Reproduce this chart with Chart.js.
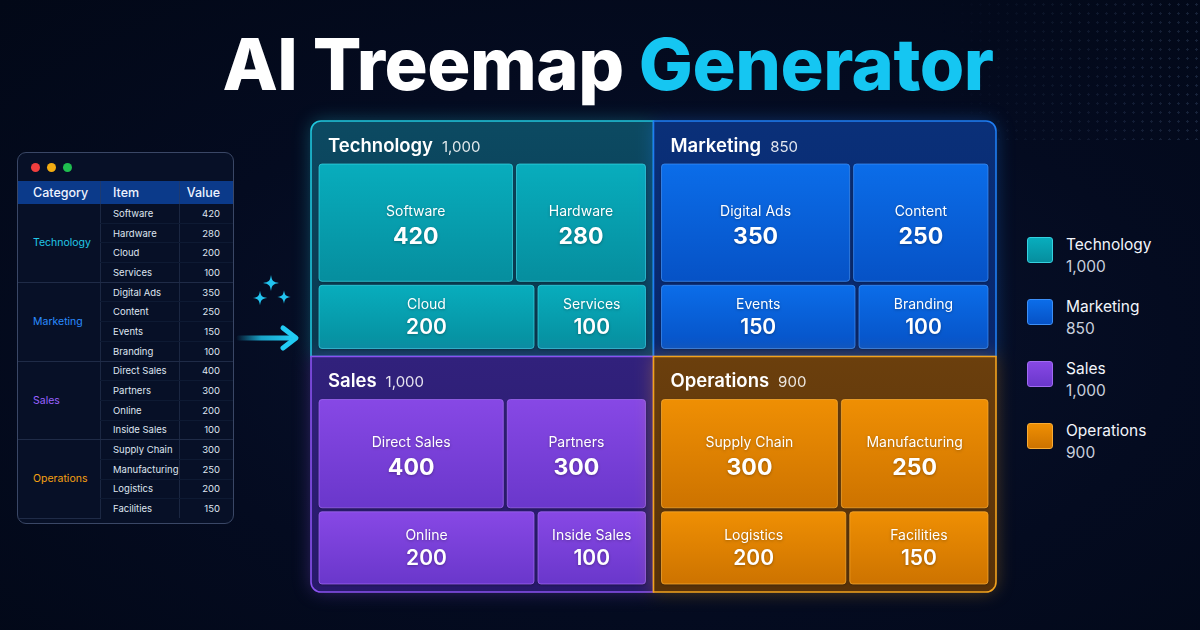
<!DOCTYPE html>
<html lang="en">
<head>
    <meta charset="UTF-8">
    <title>AI Treemap Generator</title>
    <script src="https://cdn.jsdelivr.net/npm/chart.js"></script>
    <style>
        html, body {
            margin: 0;
            padding: 0;
        }

        body {
            width: 1200px;
            height: 630px;
            overflow: hidden;
            position: relative;
            font-family: Inter, "Noto Sans", Arial, sans-serif;
            color: #fff;
            background: radial-gradient(ellipse at 55% 55%, #09132f 0%, #040b20 55%, #020817 100%);
        }

        .dots {
            position: absolute;
            right: 0;
            top: 0;
            width: 260px;
            height: 140px;
            background-image: radial-gradient(rgba(120, 150, 200, 0.18) 1px, transparent 1.2px);
            background-size: 9px 9px;
            -webkit-mask-image: linear-gradient(to left, #000, transparent);
            mask-image: linear-gradient(to left, #000, transparent);
        }

        h1 {
            position: absolute;
            left: 0;
            width: 1216px;
            top: 21px;
            margin: 0;
            text-align: center;
            font-size: 72px;
            font-weight: 800;
            letter-spacing: -0.5px;
            line-height: 86px;
        }

        h1 span {
            color: #15c6f2;
        }

        .panel {
            position: absolute;
            left: 17px;
            top: 152px;
            width: 215px;
            height: 370px;
            border: 1.5px solid #3a4766;
            border-radius: 9px;
            background: #071027;
            overflow: hidden;
        }

        .winDots {
            height: 28px;
            display: flex;
            align-items: center;
            gap: 7px;
            padding-left: 13px;
        }

        .winDots i {
            width: 9px;
            height: 9px;
            border-radius: 50%;
            display: block;
        }

        table {
            border-collapse: collapse;
            width: 100%;
            font-size: 9.5px;
        }

        th {
            background: #0b3a8a;
            height: 23px;
            font-size: 12.5px;
            font-weight: 500;
            text-align: left;
            padding: 0;
            color: #eef3ff;
        }

        th:first-child { padding-left: 15px; width: 67px; }
        th:nth-child(2) { padding-left: 12px; width: 66px; border-left: 1px solid #1d3a70; border-right: 1px solid #1d3a70; }
        th:last-child { text-align: right; padding-right: 13px; }

        td {
            height: 18.7px;
            padding: 0;
            color: #dfe5f0;
            border-bottom: 1px solid #0e1a33;
        }

        td.cat {
            padding-left: 15px;
            font-size: 10.5px;
            border-bottom: 1px solid #1f2b47;
        }

        td.item {
            padding-left: 12px;
            border-left: 1px solid #1b2742;
            border-right: 1px solid #1b2742;
        }

        td.val {
            text-align: right;
            padding-right: 13px;
        }

        tr.last td {
            border-bottom: 1px solid #1f2b47;
        }

        tbody tr:last-child td {
            border-bottom: none;
        }

        #arrow {
            position: absolute;
            left: 236px;
            top: 272px;
        }

        #chartWrap {
            position: absolute;
            left: 291px;
            top: 101px;
        }

        .legend {
            position: absolute;
            left: 1027px;
            top: 237px;
        }

        .legend .row {
            position: relative;
            height: 62px;
        }

        .legend .sw {
            position: absolute;
            left: 0;
            top: 0;
            width: 24px;
            height: 24px;
            border-radius: 3px;
            border: 1px solid;
        }

        .legend .name {
            position: absolute;
            left: 39px;
            top: -2px;
            font-size: 15.5px;
            color: #f2f5fb;
            white-space: nowrap;
        }

        .legend .num {
            position: absolute;
            left: 39px;
            top: 20px;
            font-size: 15.5px;
            color: #c9d0de;
        }
    </style>
</head>
<body>
<div class="dots"></div>
<h1>AI Treemap <span>Generator</span></h1>

<div class="panel">
    <div class="winDots">
        <i style="background:#ef3e3e"></i><i style="background:#f2ac12"></i><i style="background:#1fbe4f"></i>
    </div>
    <table>
        <thead>
        <tr><th>Category</th><th>Item</th><th>Value</th></tr>
        </thead>
        <tbody id="tableBody"></tbody>
    </table>
</div>

<svg id="arrow" width="70" height="90" viewBox="0 0 70 90">
    <defs>
        <linearGradient id="arrowGrad" x1="0" x2="1" y1="0" y2="0">
            <stop offset="0" stop-color="#1ec8f0" stop-opacity="0"/>
            <stop offset="0.45" stop-color="#1ec8f0" stop-opacity="0.8"/>
            <stop offset="1" stop-color="#22ccf4"/>
        </linearGradient>
        <path id="spark" d="M0,-8 C1,-2 2,-1 8,0 C2,1 1,2 0,8 C-1,2 -2,1 -8,0 C-2,-1 -1,-2 0,-8 Z"/>
    </defs>
    <use href="#spark" fill="#22c4f0" transform="translate(35,11)"/>
    <use href="#spark" fill="#22c4f0" transform="translate(24,26) scale(0.9)"/>
    <use href="#spark" fill="#22c4f0" transform="translate(48,25) scale(0.85)"/>
    <rect x="0" y="63.5" width="56" height="5" rx="2.5" fill="url(#arrowGrad)"/>
    <path d="M47,56 L60,66 L47,76" fill="none" stroke="#22ccf4" stroke-width="5" stroke-linecap="round" stroke-linejoin="round"/>
</svg>

<div id="chartWrap">
    <canvas id="treemapChart" width="725" height="511"></canvas>
</div>

<div class="legend" id="legend"></div>

<script>
    // Datos del treemap
    const categories = ['Technology', 'Marketing', 'Sales', 'Operations'];
    const items = [
        ['Software', 'Hardware', 'Cloud', 'Services'],
        ['Digital Ads', 'Content', 'Events', 'Branding'],
        ['Direct Sales', 'Partners', 'Online', 'Inside Sales'],
        ['Supply Chain', 'Manufacturing', 'Logistics', 'Facilities']
    ];
    const technologyValues = [420, 280, 200, 100];
    const marketingValues = [350, 250, 150, 100];
    const salesValues = [400, 300, 200, 100];
    const operationsValues = [300, 250, 200, 150];
    const values = [technologyValues, marketingValues, salesValues, operationsValues];
    const totals = values.map(v => v.reduce((a, b) => a + b, 0));

    // Colores de cada grupo
    const palette = [
        {border: '#20c6dd', bgTop: '#0c4a62', bgBot: '#09384f', cellTop: '#08adbd', cellBot: '#068e9e', edge: '#35d2e0', label: '#22c8e8'},
        {border: '#1f7df2', bgTop: '#0a3079', bgBot: '#08266b', cellTop: '#0b6de9', cellBot: '#0652c6', edge: '#3d8ff7', label: '#2a8cff'},
        {border: '#8a52f0', bgTop: '#31217c', bgBot: '#27196a', cellTop: '#8748e5', cellBot: '#6a37cb', edge: '#a06af3', label: '#9a62ff'},
        {border: '#f2a21e', bgTop: '#6b3f0d', bgBot: '#573108', cellTop: '#ef8f03', cellBot: '#cd7300', edge: '#f9ab33', label: '#f5a012'}
    ];

    const fmt = n => n.toLocaleString('en-US');

    // Tabla de la izquierda
    var tbody = document.getElementById('tableBody');
    categories.forEach(function (cat, g) {
        items[g].forEach(function (item, i) {
            var tr = document.createElement('tr');
            if (i === items[g].length - 1) tr.className = 'last';
            if (i === 0) {
                var td = document.createElement('td');
                td.className = 'cat';
                td.rowSpan = items[g].length;
                td.textContent = cat;
                td.style.color = palette[g].label;
                tr.appendChild(td);
            }
            tr.insertAdjacentHTML('beforeend', '<td class="item">' + item + '</td><td class="val">' + values[g][i] + '</td>');
            tbody.appendChild(tr);
        });
    });

    // Leyenda de la derecha
    var legend = document.getElementById('legend');
    categories.forEach(function (cat, g) {
        var p = palette[g];
        legend.insertAdjacentHTML('beforeend',
            '<div class="row"><div class="sw" style="background:linear-gradient(' + p.cellTop + ',' + p.cellBot + ');border-color:' + p.edge + '"></div>' +
            '<div class="name">' + cat + '</div><div class="num">' + fmt(totals[g]) + '</div></div>');
    });

    // Plugin que dibuja el treemap con las escalas del gráfico
    const PAD = {l: 8, r: 8, t: 43, b: 8};
    const GAP = 4;
    const TOP_ROW_SHARE = [0.65, 0.6];   // por fila de grupos
    const RADIUS = 10;

    function vGrad(ctx, y0, y1, c0, c1) {
        var gr = ctx.createLinearGradient(0, y0, 0, y1);
        gr.addColorStop(0, c0);
        gr.addColorStop(1, c1);
        return gr;
    }

    function drawCell(ctx, x0, y0, x1, y1, p, name, value, big) {
        ctx.save();
        ctx.beginPath();
        ctx.roundRect(x0, y0, x1 - x0, y1 - y0, 3);
        ctx.shadowColor = 'rgba(0,0,0,0.35)';
        ctx.shadowBlur = 3;
        ctx.shadowOffsetY = 1;
        ctx.fillStyle = vGrad(ctx, y0, y1, p.cellTop, p.cellBot);
        ctx.fill();
        ctx.shadowColor = 'transparent';
        ctx.lineWidth = 1;
        ctx.strokeStyle = p.edge;
        ctx.globalAlpha = 0.75;
        ctx.stroke();
        ctx.globalAlpha = 1;

        var cx = (x0 + x1) / 2, cy = (y0 + y1) / 2;
        ctx.fillStyle = '#ffffff';
        ctx.textAlign = 'center';
        ctx.textBaseline = 'middle';
        ctx.shadowColor = 'rgba(0,0,0,0.3)';
        ctx.shadowBlur = 3;
        ctx.font = '400 14px Inter, "Noto Sans", sans-serif';
        ctx.fillText(name, cx, big ? cy - 11 : cy - 12);
        ctx.font = (big ? '700 23px' : '600 21px') + ' Inter, "Noto Sans", sans-serif';
        ctx.fillText(fmt(value), cx, big ? cy + 14 : cy + 11);
        ctx.restore();
    }

    const treemapPlugin = {
        id: 'treemap',
        afterDraw: function (chart) {
            var ctx = chart.ctx;
            var xs = chart.scales.x, ys = chart.scales.y;
            var corners = [[RADIUS, 0, 0, 0], [0, RADIUS, 0, 0], [0, 0, 0, RADIUS], [0, 0, RADIUS, 0]];

            categories.forEach(function (cat, g) {
                var p = palette[g];
                var col = g % 2, row = Math.floor(g / 2);
                var gx0 = xs.getPixelForValue(col), gx1 = xs.getPixelForValue(col + 1);
                var gy0 = ys.getPixelForValue(row), gy1 = ys.getPixelForValue(row + 1);

                // Fondo del grupo
                ctx.save();
                ctx.beginPath();
                ctx.roundRect(gx0, gy0, gx1 - gx0, gy1 - gy0, corners[g]);
                ctx.shadowColor = p.border + '55';
                ctx.shadowBlur = 18;
                ctx.fillStyle = vGrad(ctx, gy0, gy1, p.bgTop, p.bgBot);
                ctx.fill();
                ctx.shadowColor = 'transparent';
                ctx.lineWidth = 1.6;
                ctx.strokeStyle = p.border;
                ctx.stroke();
                ctx.restore();

                // Cabecera
                ctx.save();
                ctx.fillStyle = '#ffffff';
                ctx.textBaseline = 'middle';
                ctx.textAlign = 'left';
                ctx.font = '600 18.5px Inter, "Noto Sans", sans-serif';
                ctx.fillText(cat, gx0 + 17, gy0 + 25);
                var w = ctx.measureText(cat).width;
                ctx.font = '400 15px Inter, "Noto Sans", sans-serif';
                ctx.fillStyle = 'rgba(255,255,255,0.88)';
                ctx.fillText(fmt(totals[g]), gx0 + 17 + w + 9, gy0 + 26);
                ctx.restore();

                // Celdas: dos filas de dos elementos
                var ix0 = gx0 + PAD.l, ix1 = gx1 - PAD.r;
                var iy0 = gy0 + PAD.t, iy1 = gy1 - PAD.b;
                var topH = (iy1 - iy0 - GAP) * TOP_ROW_SHARE[row];
                var rowsY = [[iy0, iy0 + topH], [iy0 + topH + GAP, iy1]];
                [[0, 1], [2, 3]].forEach(function (idx, r) {
                    var sum = values[g][idx[0]] + values[g][idx[1]];
                    var avail = ix1 - ix0 - GAP;
                    var splitX = ix0 + avail * values[g][idx[0]] / sum;
                    drawCell(ctx, ix0, rowsY[r][0], splitX, rowsY[r][1], p, items[g][idx[0]], values[g][idx[0]], r === 0);
                    drawCell(ctx, splitX + GAP, rowsY[r][0], ix1, rowsY[r][1], p, items[g][idx[1]], values[g][idx[1]], r === 0);
                });
            });
        }
    };

    var treemapCtx = document.getElementById('treemapChart').getContext('2d');
    var treemapChart = new Chart(treemapCtx, {
        type: 'scatter',
        data: {
            datasets: [{data: []}]
        },
        options: {
            responsive: false,
            animation: false,
            events: [],
            layout: {padding: 20},
            scales: {
                x: {type: 'linear', min: 0, max: 2, display: false},
                y: {type: 'linear', min: 0, max: 2.0, reverse: true, display: false}
            },
            plugins: {
                legend: {display: false},
                tooltip: {enabled: false}
            }
        },
        plugins: [treemapPlugin]
    });
</script>
</body>
</html>
